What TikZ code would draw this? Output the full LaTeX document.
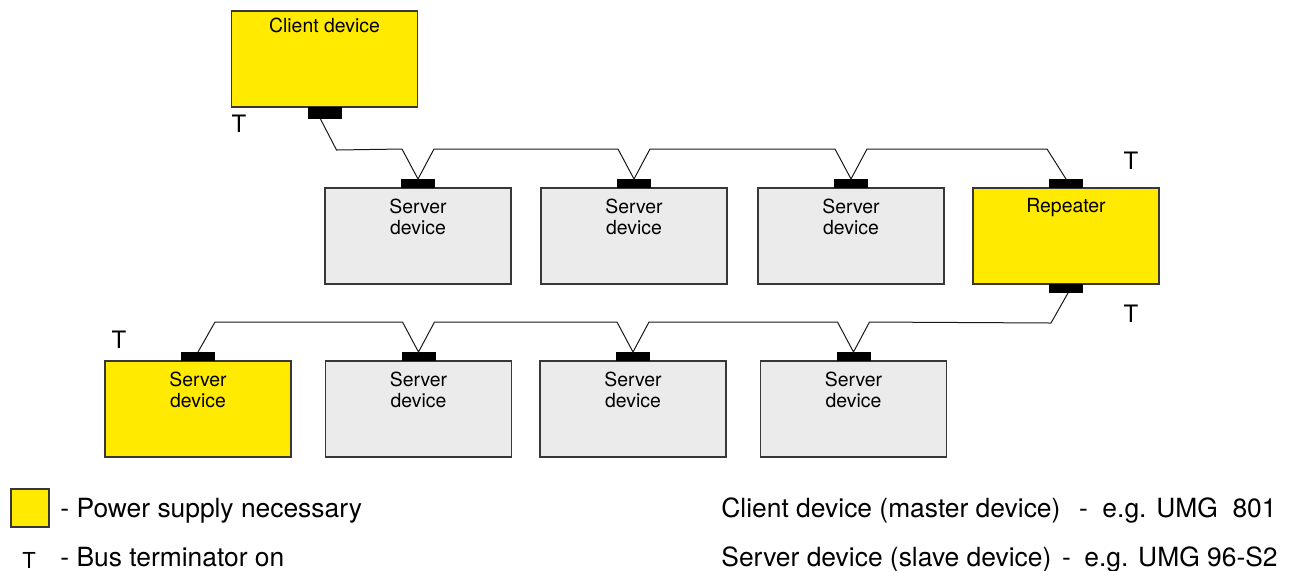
\documentclass[tikz,border=0pt]{standalone}
\usepackage{fontspec}
\setmainfont{TeX Gyre Heros}
\usetikzlibrary{calc}
\definecolor{devyellow}{RGB}{255,234,0}
\definecolor{devgray}{RGB}{235,235,235}
\definecolor{edgegray}{RGB}{55,55,55}
\tikzset{
  dev/.style={draw=edgegray, line width=0.7pt, minimum width=93pt, minimum height=48pt, inner sep=0pt, outer sep=0pt},
  power/.style={dev, fill=devyellow},
  plain/.style={dev, fill=devgray},
  blk/.style={fill=black, draw=none, minimum width=17pt, minimum height=4.5pt, inner sep=0pt, outer sep=0pt},
  devtext/.style={font=\fontsize{9.7}{10.5}\selectfont, align=center, inner sep=0pt, anchor=north},
  term/.style={font=\fontsize{12}{12}\selectfont, inner sep=0pt, anchor=base},
  legend/.style={font=\fontsize{13.2}{14}\selectfont, inner sep=0pt, anchor=base west},
  wire/.style={line width=0.5pt, black!90},
}
\begin{document}
\begin{tikzpicture}[x=0.5pt, y=-0.5pt]
\useasboundingbox (0,0) rectangle (1292,570);

% client
\node[power] (cl) at (324.5,59) {};
\node[devtext] (clt) at ($(cl.north)+(0,7)$) {Client device};
\node[blk, anchor=north, minimum height=6pt] (clb) at (cl.south) {};

% row 1
\node[plain] (s1) at (418,236) {};
\node[plain] (s2) at (634,236) {};
\node[plain] (s3) at (851,236) {};
\node[power] (rp) at (1066,236) {};
\foreach \n in {s1,s2,s3}{
  \node[devtext] (\n t) at ($(\n.north)+(0,11)$) {Server\\device};
  \node[blk, anchor=south] (\n b) at (\n.north) {};
}
\node[devtext] (rpt) at ($(rp.north)+(0,10)$) {Repeater};
\node[blk, anchor=south] (rpb) at (rp.north) {};
\node[blk, anchor=north] (rpc) at (rp.south) {};

% row 2
\node[power] (a1) at (198,409) {};
\node[plain] (a2) at (418.5,409) {};
\node[plain] (a3) at (633,409) {};
\node[plain] (a4) at (853.5,409) {};
\foreach \n in {a1,a2,a3,a4}{
  \node[devtext] (\n t) at ($(\n.north)+(0,11)$) {Server\\device};
  \node[blk, anchor=south] (\n b) at (\n.north) {};
}

% terminators
\node[term] (t1) at (239,132) {T};
\node[term] (t2) at (1131,169) {T};
\node[term] (t3) at (1131,322) {T};
\node[term] (t4) at (119,348) {T};

% wires row 1
\draw[wire] ($(clb.south)+(-4,0)$) -- ($(clb.south)+(12,31)$)
  -- ($(s1b.north)+(-16,-30)$) -- (s1b.north) -- ($(s1b.north)+(16,-30)$)
  -- ($(s2b.north)+(-16,-30)$) -- (s2b.north) -- ($(s2b.north)+(16,-30)$)
  -- ($(s3b.north)+(-16,-30)$) -- (s3b.north) -- ($(s3b.north)+(16,-30)$)
  -- ($(rpb.north)+(-19,-30)$) -- (rpb.north);

% wires row 2
\draw[wire] ($(rpc.south)+(2,0)$) -- ($(rpc.south)+(-15,30)$)
  -- ($(a4b.north)+(16,-30)$) -- (a4b.north) -- ($(a4b.north)+(-16,-30)$)
  -- ($(a3b.north)+(16,-30)$) -- (a3b.north) -- ($(a3b.north)+(-16,-30)$)
  -- ($(a2b.north)+(16,-30)$) -- (a2b.north) -- ($(a2b.north)+(-16,-30)$)
  -- ($(a1b.north)+(17,-30)$) -- (a1b.north);

% legend
\node[dev, fill=devyellow, minimum width=19pt, minimum height=19pt] (lg) at (30,508) {};
\node[legend] (lgt) at (60,517) {- Power supply necessary};
\node[term, font=\fontsize{11}{11}\selectfont] (lt) at (29,568) {T};
\node[legend] (ltt) at (60,566) {- Bus terminator on};

\node[legend] (r1a) at (721,517) {Client device (master device)};
\node[legend, anchor=base] (r1b) at (1083.5,517) {-};
\node[legend, anchor=base east] (r1c) at (1277,517) {e.g. UMG\ \ 801};
\node[legend] (r2a) at (721,566) {Server device (slave device)};
\node[legend, anchor=base] (r2b) at (1066.5,566) {-};
\node[legend, anchor=base east] (r2c) at (1278,566) {e.g. UMG 96-S2};
\end{tikzpicture}
\end{document}
